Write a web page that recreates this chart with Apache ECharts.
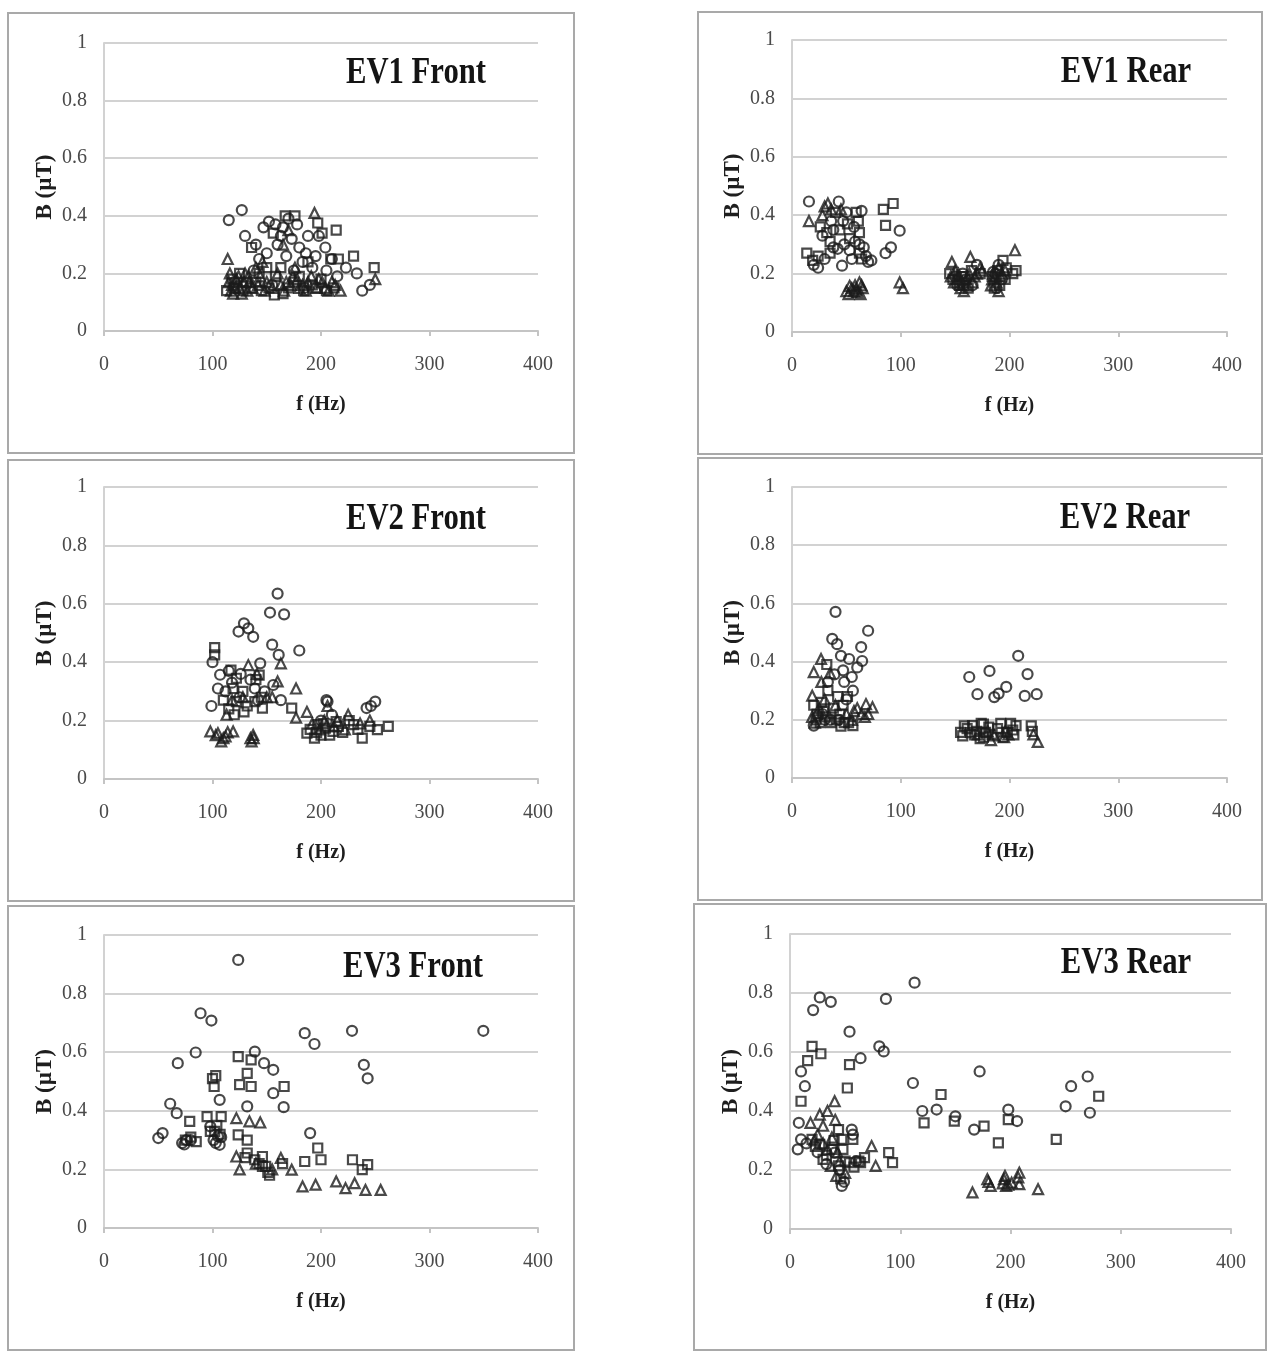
<!DOCTYPE html>
<html>
<head>
<meta charset="utf-8">
<title>Magnetic flux density vs frequency — EV1–EV3</title>
<script src="https://cdn.jsdelivr.net/npm/echarts@6/dist/echarts.min.js"></script>
<style>
  html, body { margin: 0; padding: 0; background: #ffffff; }
  #chart { width: 1272px; height: 1354px; }
</style>
</head>
<body>
<div id="chart"></div>
<script>
// ---- Measured points: [frequency f (Hz), flux density B (µT)] ----
// Each vehicle/position panel has three measurement sets (circle, square, triangle markers).

const ev1FrontCircles = [[115,0.385],[127,0.42],[130,0.33],[143,0.25],[147,0.36],[152,0.38],[158,0.37],[160,0.30],[165,0.36],[168,0.26],[173,0.32],[175,0.21],[180,0.29],[186,0.27],[188,0.33],[192,0.22],[198,0.33],[204,0.29],[210,0.25],[223,0.22],[233,0.20],[238,0.14],[245,0.16],[138,0.21],[120,0.17],[155,0.16],[185,0.15],[140,0.30],[150,0.27],[163,0.33],[178,0.37],[183,0.24],[195,0.26],[205,0.21],[215,0.19],[170,0.39]];
const ev1FrontSquares = [[120,0.15],[125,0.20],[128,0.14],[135,0.15],[136,0.29],[145,0.14],[150,0.22],[156,0.34],[157,0.125],[158,0.19],[163,0.22],[167,0.40],[170,0.15],[176,0.40],[180,0.19],[188,0.24],[195,0.15],[197,0.375],[201,0.34],[205,0.14],[209,0.25],[214,0.35],[216,0.25],[230,0.26],[249,0.22],[113,0.14],[140,0.17],[118,0.18],[131,0.17],[143,0.20],[152,0.15],[165,0.13],[175,0.17],[184,0.14],[192,0.16],[200,0.18],[212,0.15]];
const ev1FrontTriangles = [[114,0.25],[116,0.20],[118,0.16],[122,0.18],[125,0.15],[130,0.20],[134,0.17],[140,0.22],[142,0.16],[146,0.24],[150,0.17],[160,0.20],[165,0.30],[168,0.17],[170,0.35],[172,0.16],[176,0.22],[178,0.18],[183,0.16],[188,0.17],[194,0.41],[198,0.18],[204,0.15],[210,0.17],[218,0.14],[250,0.18],[117,0.14],[132,0.14],[115,0.17],[119,0.13],[121,0.15],[124,0.19],[127,0.13],[129,0.17],[133,0.19],[137,0.15],[144,0.19],[148,0.14],[155,0.15],[163,0.16],[166,0.14],[174,0.19],[180,0.15],[186,0.14],[191,0.19],[196,0.15],[201,0.17],[207,0.14],[213,0.16]];

const ev1RearCircles = [[15.6,0.447],[28,0.33],[36,0.38],[42,0.285],[43,0.447],[46,0.227],[50,0.41],[53,0.28],[57,0.36],[62,0.30],[64,0.415],[68,0.26],[73,0.245],[86,0.27],[91,0.29],[99,0.347],[24,0.22],[160,0.18],[170,0.23],[185,0.206],[193,0.18],[152,0.16],[188,0.15],[20,0.23],[30,0.25],[38,0.29],[48,0.30],[55,0.25],[58,0.31],[66,0.29],[70,0.24],[47,0.38],[38,0.35],[150,0.19],[157,0.20],[166,0.16],[187,0.20],[190,0.23]];
const ev1RearSquares = [[13.6,0.27],[19,0.245],[24,0.26],[26,0.36],[32,0.34],[35,0.27],[44,0.35],[51,0.37],[53,0.32],[61,0.38],[62,0.34],[62,0.27],[64,0.25],[84,0.42],[93,0.44],[86,0.365],[145,0.20],[156,0.19],[158,0.16],[173,0.20],[186,0.15],[194,0.245],[197,0.22],[206,0.21],[35,0.31],[40,0.41],[59,0.41],[148,0.18],[154,0.16],[159,0.19],[162,0.15],[165,0.21],[184,0.19],[189,0.21],[191,0.16],[196,0.18],[203,0.20]];
const ev1RearTriangles = [[15.6,0.38],[28,0.40],[30,0.43],[36,0.42],[45,0.42],[33,0.44],[50,0.14],[53,0.158],[58,0.16],[60,0.137],[62,0.17],[65,0.15],[52,0.13],[55,0.15],[59,0.145],[63,0.13],[64,0.16],[99,0.17],[102,0.15],[147,0.24],[150,0.21],[152,0.18],[155,0.15],[160,0.18],[164,0.257],[168,0.19],[175,0.21],[184,0.18],[187,0.19],[190,0.22],[193,0.20],[205,0.28],[57,0.14],[146,0.19],[149,0.17],[153,0.20],[156,0.17],[158,0.14],[161,0.16],[163,0.20],[166,0.17],[170,0.20],[173,0.22],[183,0.16],[185,0.20],[188,0.17],[190,0.14],[192,0.19],[196,0.21]];

const ev2FrontCircles = [[160,0.635],[153,0.57],[166,0.564],[124,0.505],[129,0.533],[133,0.516],[137.5,0.487],[180,0.44],[155,0.46],[161,0.425],[100,0.40],[105,0.31],[99,0.25],[144,0.396],[156,0.322],[163,0.27],[107,0.357],[118,0.33],[206,0.265],[242,0.243],[250,0.265],[139,0.31],[148,0.30],[112,0.30],[125,0.28],[135,0.34],[142,0.27],[115,0.37],[126,0.36],[200,0.20],[210,0.22],[246,0.25],[205,0.27]];
const ev2FrontSquares = [[102,0.45],[102,0.425],[117,0.373],[122,0.345],[122,0.265],[129,0.23],[139,0.265],[143,0.356],[146,0.243],[119,0.31],[173,0.243],[187,0.157],[194,0.14],[197,0.186],[204,0.174],[211,0.163],[214,0.197],[230,0.186],[238,0.14],[252,0.169],[262,0.18],[120,0.22],[132,0.25],[200,0.15],[110,0.27],[128,0.30],[140,0.34],[145,0.28],[115,0.24],[190,0.17],[196,0.16],[202,0.19],[208,0.15],[216,0.18],[220,0.16],[226,0.20],[234,0.17],[245,0.18]];
const ev2FrontTriangles = [[133,0.39],[163,0.396],[160,0.334],[177,0.31],[177,0.21],[187,0.23],[225,0.22],[98,0.163],[105,0.157],[108,0.129],[112,0.146],[119,0.163],[136,0.129],[137.5,0.151],[128,0.28],[150,0.28],[206,0.25],[245,0.20],[215,0.20],[113,0.22],[118,0.27],[141,0.36],[155,0.28],[103,0.15],[110,0.14],[114,0.16],[135,0.14],[138,0.14],[192,0.19],[199,0.17],[203,0.20],[212,0.18],[222,0.17],[236,0.19]];

const ev2RearCircles = [[40,0.571],[70,0.506],[37,0.478],[41.5,0.46],[63.6,0.45],[52.5,0.409],[64.5,0.402],[45,0.42],[55,0.347],[60,0.38],[47,0.37],[39,0.356],[163,0.347],[181.6,0.368],[208,0.42],[216.6,0.357],[170.5,0.288],[186,0.278],[197,0.313],[190,0.29],[214,0.282],[225,0.288],[24,0.213],[30,0.20],[20,0.18],[28,0.22],[35,0.20],[43,0.20],[50,0.27],[56,0.30],[33,0.33],[48,0.33]];
const ev2RearSquares = [[32,0.39],[42,0.28],[51,0.28],[33,0.30],[38,0.24],[48,0.19],[56,0.18],[45,0.178],[29,0.23],[20,0.25],[22,0.20],[23,0.22],[26,0.19],[31,0.21],[36,0.19],[41,0.20],[44,0.22],[52,0.19],[47,0.25],[27,0.26],[158.5,0.179],[164,0.156],[174,0.188],[178,0.157],[173,0.135],[192,0.188],[201,0.188],[198,0.157],[204,0.148],[220,0.179],[168,0.148],[155,0.157],[157,0.145],[161,0.17],[166,0.18],[170,0.16],[176,0.14],[181,0.175],[184,0.15],[189,0.17],[194,0.14],[203,0.165],[206,0.18],[221,0.16],[176,0.185]];
const ev2RearTriangles = [[26.7,0.409],[20,0.364],[27,0.33],[18.6,0.283],[18.5,0.21],[60,0.24],[68,0.254],[74,0.243],[67,0.21],[35,0.36],[50,0.22],[21,0.19],[25,0.24],[30,0.27],[40,0.25],[55,0.20],[57,0.23],[64,0.22],[70,0.22],[186,0.146],[226,0.124],[180,0.16],[222,0.15],[195,0.14],[171,0.15],[183,0.13],[196,0.16],[199,0.15]];

const ev3FrontCircles = [[123.7,0.915],[89,0.733],[99,0.708],[84.5,0.599],[68,0.5625],[185,0.665],[194,0.628],[228.6,0.673],[349.6,0.673],[239.5,0.557],[243,0.511],[61,0.424],[67,0.392],[50,0.307],[54,0.324],[139,0.602],[147.5,0.5625],[156,0.54],[156,0.46],[165.6,0.4125],[132,0.415],[106.6,0.4375],[190,0.324],[72,0.29],[76,0.30],[105,0.3125],[106.6,0.284],[98,0.347],[74,0.285],[80,0.30],[101,0.30],[103,0.29],[108,0.31]];
const ev3FrontSquares = [[79,0.364],[80,0.31],[85,0.295],[100,0.51],[103,0.52],[101.5,0.483],[95,0.38],[108,0.38],[123.7,0.585],[135.6,0.574],[132,0.528],[125,0.489],[135.6,0.483],[166,0.483],[123.7,0.318],[132,0.30],[132,0.256],[139,0.233],[146,0.244],[149,0.21],[152.6,0.18],[164.6,0.22],[197,0.273],[200,0.233],[185,0.227],[229,0.233],[243,0.216],[238,0.199],[102,0.33],[75,0.30],[98,0.33],[104,0.35],[107,0.32],[143,0.22],[151,0.19],[146,0.21],[130,0.24]];
const ev3FrontTriangles = [[122,0.375],[134,0.364],[144,0.36],[122,0.244],[125,0.20],[163,0.239],[173,0.199],[183,0.142],[195,0.148],[214,0.159],[222.6,0.136],[231,0.153],[241,0.13],[255,0.13],[140,0.22],[155,0.20]];

const ev3RearCircles = [[113,0.835],[87,0.78],[27,0.785],[21,0.742],[37,0.77],[54,0.669],[81,0.619],[85,0.602],[64,0.579],[10,0.534],[13.5,0.484],[8,0.36],[111.5,0.495],[172,0.534],[120,0.40],[133,0.405],[150,0.382],[167,0.337],[198,0.405],[206,0.366],[250,0.416],[255,0.484],[270,0.517],[272,0.394],[10,0.304],[7,0.27],[56,0.337],[40.5,0.259],[47,0.146],[15,0.29],[25,0.26],[33,0.22],[45,0.20],[49,0.16],[60,0.23],[57,0.32]];
const ev3RearSquares = [[20,0.619],[28,0.594],[16,0.571],[10,0.433],[54,0.557],[52,0.478],[121.6,0.36],[137,0.456],[149,0.366],[176,0.349],[189,0.292],[198,0.371],[241.5,0.304],[280,0.45],[44,0.337],[47,0.304],[57,0.304],[89.5,0.259],[93,0.225],[20,0.304],[30,0.236],[44,0.214],[54,0.225],[62.5,0.23],[67.6,0.242],[27,0.287],[23,0.28],[33,0.25],[38,0.27],[40,0.30],[48,0.27],[50,0.23],[58,0.21],[64,0.225],[46,0.17]];
const ev3RearTriangles = [[40.5,0.433],[34,0.40],[27,0.388],[18.6,0.36],[34,0.27],[37,0.214],[42,0.18],[74,0.281],[77.7,0.214],[22,0.30],[25,0.32],[30,0.29],[38,0.31],[43,0.26],[45,0.23],[30,0.35],[41,0.37],[50,0.19],[165.5,0.124],[179,0.169],[182,0.146],[194,0.169],[196,0.146],[201,0.157],[208,0.191],[208,0.152],[225,0.135],[180,0.16],[193,0.155],[195,0.18],[207,0.175],[198,0.15]];

// ---- Axis scales and text ----
const F_MIN = 0, F_MAX = 400, F_STEP = 100;
const B_MIN = 0, B_MAX = 1, B_STEP = 0.2;
const panelTitles = ['EV1 Front', 'EV1 Rear', 'EV2 Front', 'EV2 Rear', 'EV3 Front', 'EV3 Rear'];
const xAxisTitle = 'f (Hz)';
const yAxisTitle = 'B (\u00B5T)';

const panelSeries = [
  [ev1FrontCircles, ev1FrontSquares, ev1FrontTriangles],
  [ev1RearCircles, ev1RearSquares, ev1RearTriangles],
  [ev2FrontCircles, ev2FrontSquares, ev2FrontTriangles],
  [ev2RearCircles, ev2RearSquares, ev2RearTriangles],
  [ev3FrontCircles, ev3FrontSquares, ev3FrontTriangles],
  [ev3RearCircles, ev3RearSquares, ev3RearTriangles]
];

// ---- Page layout: plot rectangles, frames and title anchors ----
const layout = [
  { grid: { left: 104, top: 43,  width: 434, height: 288 }, box: [8, 13, 566, 440],   title: [416, 73] },
  { grid: { left: 792, top: 40,  width: 435, height: 292 }, box: [698, 12, 564, 442], title: [1126, 72] },
  { grid: { left: 104, top: 487, width: 434, height: 292 }, box: [8, 460, 566, 441],  title: [416, 519] },
  { grid: { left: 792, top: 487, width: 435, height: 291 }, box: [698, 458, 564, 442], title: [1125, 518] },
  { grid: { left: 104, top: 935, width: 434, height: 293 }, box: [8, 906, 566, 444],  title: [413, 967] },
  { grid: { left: 790, top: 934, width: 441, height: 295 }, box: [694, 904, 572, 446], title: [1126, 963] }
];

const SERIF = '"Liberation Serif", "Times New Roman", serif';
const markerShapes = [
  { symbol: 'circle',   size: 10, name: 'Set A' },
  { symbol: 'rect',     size: 9,  name: 'Set B' },
  { symbol: 'triangle', size: 10, name: 'Set C' }
];

const grids = [], xAxes = [], yAxes = [], series = [], graphics = [];

layout.forEach((p, i) => {
  grids.push(Object.assign({ containLabel: false }, p.grid));

  xAxes.push({
    gridIndex: i, type: 'value', min: F_MIN, max: F_MAX, interval: F_STEP,
    name: xAxisTitle, nameLocation: 'middle', nameGap: 64,
    nameTextStyle: { fontFamily: SERIF, fontWeight: 'bold', fontSize: 20, color: '#1e1e1e' },
    axisLine: { show: true, onZero: true, lineStyle: { color: '#c4c4c4', width: 2 } },
    axisTick: { show: true, length: 5, lineStyle: { color: '#c4c4c4', width: 2 } },
    axisLabel: { fontFamily: SERIF, fontSize: 20, color: '#4a4a4a', margin: 24 },
    splitLine: { show: false }
  });

  yAxes.push({
    gridIndex: i, type: 'value', min: B_MIN, max: B_MAX, interval: B_STEP,
    name: yAxisTitle, nameLocation: 'middle', nameGap: 47,
    nameTextStyle: { fontFamily: SERIF, fontWeight: 'bold', fontSize: 23, color: '#1e1e1e' },
    axisLine: { show: true, lineStyle: { color: '#d2d2d2', width: 2 } },
    axisTick: { show: false },
    axisLabel: { fontFamily: SERIF, fontSize: 20, color: '#4a4a4a', margin: 17 },
    splitLine: { show: true, lineStyle: { color: '#d2d2d2', width: 2 } }
  });

  panelSeries[i].forEach((pts, k) => {
    const m = markerShapes[k];
    series.push({
      type: 'scatter', name: m.name, xAxisIndex: i, yAxisIndex: i,
      data: pts, symbol: m.symbol, symbolSize: m.size,
      itemStyle: { color: 'rgba(0,0,0,0)', borderColor: '#1c1c1c', borderWidth: 2.2 },
      silent: true, z: 3 + k
    });
  });

  // chart-area frame
  graphics.push({
    type: 'rect', z: -1, silent: true,
    shape: { x: p.box[0], y: p.box[1], width: p.box[2], height: p.box[3] },
    style: { fill: 'none', stroke: '#a9a9a9', lineWidth: 2 }
  });

  // panel caption (bold, slightly condensed)
  graphics.push({
    type: 'text', silent: true, z: 10,
    x: p.title[0], y: p.title[1], scaleX: 0.83, scaleY: 1,
    style: {
      text: panelTitles[i], x: 0, y: 0,
      font: 'bold 37px ' + SERIF, fill: '#141414',
      textAlign: 'center', textVerticalAlign: 'middle'
    }
  });
});

const chart = echarts.init(document.getElementById('chart'), null, { renderer: 'canvas' });
chart.setOption({
  backgroundColor: '#ffffff',
  animation: false,
  grid: grids,
  xAxis: xAxes,
  yAxis: yAxes,
  series: series,
  graphic: { elements: graphics }
});
</script>
</body>
</html>
